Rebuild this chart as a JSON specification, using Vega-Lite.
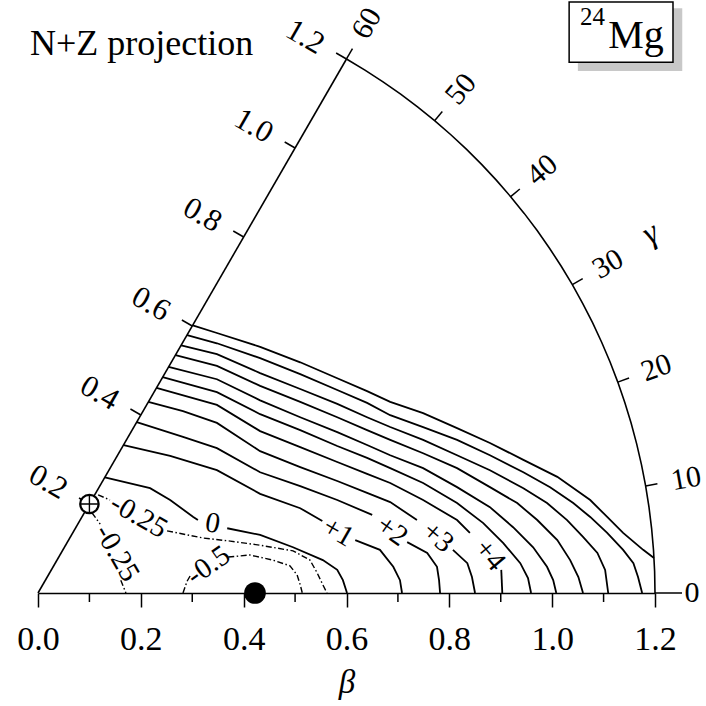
{
  "$schema": "https://vega.github.io/schema/vega-lite/v6.json",
  "width": 617,
  "height": 534,
  "autosize": {"type": "none"},
  "padding": {"left": 38, "top": 59, "right": 51, "bottom": 113},
  "background": "white",
  "config": {"view": {"stroke": null}},
  "datasets": {
    "contours": [
      {"c": "10", "x": 0.301, "y": 0.521}, {"c": "10", "x": 0.348, "y": 0.506}, {"c": "10", "x": 0.432, "y": 0.479}, {"c": "10", "x": 0.510, "y": 0.449}, {"c": "10", "x": 0.582, "y": 0.418}, {"c": "10", "x": 0.640, "y": 0.393}, {"c": "10", "x": 0.685, "y": 0.372}, {"c": "10", "x": 0.749, "y": 0.350}, {"c": "10", "x": 0.815, "y": 0.321}, {"c": "10", "x": 0.879, "y": 0.292}, {"c": "10", "x": 0.944, "y": 0.259}, {"c": "10", "x": 1.010, "y": 0.226}, {"c": "10", "x": 1.074, "y": 0.181}, {"c": "10", "x": 1.107, "y": 0.148}, {"c": "10", "x": 1.138, "y": 0.117}, {"c": "10", "x": 1.177, "y": 0.084}, {"c": "10", "x": 1.198, "y": 0.068},
      {"c": "9", "x": 0.290, "y": 0.502}, {"c": "9", "x": 0.348, "y": 0.486}, {"c": "9", "x": 0.432, "y": 0.457}, {"c": "9", "x": 0.510, "y": 0.426}, {"c": "9", "x": 0.582, "y": 0.395}, {"c": "9", "x": 0.640, "y": 0.370}, {"c": "9", "x": 0.685, "y": 0.346}, {"c": "9", "x": 0.749, "y": 0.323}, {"c": "9", "x": 0.815, "y": 0.298}, {"c": "9", "x": 0.879, "y": 0.268}, {"c": "9", "x": 0.944, "y": 0.235}, {"c": "9", "x": 0.996, "y": 0.206}, {"c": "9", "x": 1.041, "y": 0.175}, {"c": "9", "x": 1.074, "y": 0.148}, {"c": "9", "x": 1.107, "y": 0.117}, {"c": "9", "x": 1.138, "y": 0.084}, {"c": "9", "x": 1.158, "y": 0.058}, {"c": "9", "x": 1.167, "y": 0.031}, {"c": "9", "x": 1.175, "y": 0},
      {"c": "8", "x": 0.2785, "y": 0.482}, {"c": "8", "x": 0.348, "y": 0.465}, {"c": "8", "x": 0.432, "y": 0.428}, {"c": "8", "x": 0.510, "y": 0.397}, {"c": "8", "x": 0.582, "y": 0.368}, {"c": "8", "x": 0.640, "y": 0.342}, {"c": "8", "x": 0.685, "y": 0.323}, {"c": "8", "x": 0.749, "y": 0.298}, {"c": "8", "x": 0.815, "y": 0.268}, {"c": "8", "x": 0.879, "y": 0.239}, {"c": "8", "x": 0.944, "y": 0.204}, {"c": "8", "x": 0.990, "y": 0.175}, {"c": "8", "x": 1.029, "y": 0.142}, {"c": "8", "x": 1.060, "y": 0.109}, {"c": "8", "x": 1.088, "y": 0.078}, {"c": "8", "x": 1.103, "y": 0.045}, {"c": "8", "x": 1.109, "y": 0},
      {"c": "7", "x": 0.2675, "y": 0.463}, {"c": "7", "x": 0.348, "y": 0.442}, {"c": "7", "x": 0.432, "y": 0.403}, {"c": "7", "x": 0.510, "y": 0.372}, {"c": "7", "x": 0.582, "y": 0.342}, {"c": "7", "x": 0.640, "y": 0.317}, {"c": "7", "x": 0.685, "y": 0.298}, {"c": "7", "x": 0.749, "y": 0.272}, {"c": "7", "x": 0.815, "y": 0.243}, {"c": "7", "x": 0.879, "y": 0.206}, {"c": "7", "x": 0.932, "y": 0.175}, {"c": "7", "x": 0.971, "y": 0.142}, {"c": "7", "x": 1.010, "y": 0.103}, {"c": "7", "x": 1.035, "y": 0.064}, {"c": "7", "x": 1.051, "y": 0.031}, {"c": "7", "x": 1.060, "y": 0},
      {"c": "6", "x": 0.254, "y": 0.440}, {"c": "6", "x": 0.348, "y": 0.416}, {"c": "6", "x": 0.432, "y": 0.375}, {"c": "6", "x": 0.510, "y": 0.342}, {"c": "6", "x": 0.582, "y": 0.313}, {"c": "6", "x": 0.640, "y": 0.288}, {"c": "6", "x": 0.685, "y": 0.268}, {"c": "6", "x": 0.749, "y": 0.243}, {"c": "6", "x": 0.815, "y": 0.206}, {"c": "6", "x": 0.879, "y": 0.167}, {"c": "6", "x": 0.924, "y": 0.128}, {"c": "6", "x": 0.963, "y": 0.089}, {"c": "6", "x": 0.990, "y": 0.051}, {"c": "6", "x": 1.002, "y": 0.025}, {"c": "6", "x": 1.008, "y": 0},
      {"c": "5", "x": 0.2425, "y": 0.420}, {"c": "5", "x": 0.348, "y": 0.391}, {"c": "5", "x": 0.432, "y": 0.348}, {"c": "5", "x": 0.510, "y": 0.317}, {"c": "5", "x": 0.582, "y": 0.286}, {"c": "5", "x": 0.640, "y": 0.263}, {"c": "5", "x": 0.685, "y": 0.243}, {"c": "5", "x": 0.749, "y": 0.214}, {"c": "5", "x": 0.815, "y": 0.175}, {"c": "5", "x": 0.866, "y": 0.136}, {"c": "5", "x": 0.905, "y": 0.097}, {"c": "5", "x": 0.938, "y": 0.058}, {"c": "5", "x": 0.953, "y": 0.029}, {"c": "5", "x": 0.959, "y": 0},
      {"c": "4a", "x": 0.2305, "y": 0.399}, {"c": "4a", "x": 0.348, "y": 0.366}, {"c": "4a", "x": 0.432, "y": 0.315}, {"c": "4a", "x": 0.510, "y": 0.284}, {"c": "4a", "x": 0.582, "y": 0.255}, {"c": "4a", "x": 0.640, "y": 0.232}, {"c": "4a", "x": 0.685, "y": 0.214}, {"c": "4a", "x": 0.749, "y": 0.181}, {"c": "4a", "x": 0.815, "y": 0.142}, {"c": "4a", "x": 0.840, "y": 0.117},
      {"c": "4b", "x": 0.901, "y": 0.045}, {"c": "4b", "x": 0.903, "y": 0},
      {"c": "3a", "x": 0.2145, "y": 0.372}, {"c": "3a", "x": 0.282, "y": 0.354}, {"c": "3a", "x": 0.348, "y": 0.331}, {"c": "3a", "x": 0.432, "y": 0.276}, {"c": "3a", "x": 0.510, "y": 0.245}, {"c": "3a", "x": 0.582, "y": 0.218}, {"c": "3a", "x": 0.640, "y": 0.195}, {"c": "3a", "x": 0.685, "y": 0.177}, {"c": "3a", "x": 0.737, "y": 0.142},
      {"c": "3b", "x": 0.807, "y": 0.084}, {"c": "3b", "x": 0.835, "y": 0.058}, {"c": "3b", "x": 0.844, "y": 0.031}, {"c": "3b", "x": 0.850, "y": 0},
      {"c": "2a", "x": 0.192, "y": 0.3325}, {"c": "2a", "x": 0.282, "y": 0.304}, {"c": "2a", "x": 0.348, "y": 0.282}, {"c": "2a", "x": 0.432, "y": 0.235}, {"c": "2a", "x": 0.510, "y": 0.208}, {"c": "2a", "x": 0.582, "y": 0.181}, {"c": "2a", "x": 0.650, "y": 0.152},
      {"c": "2b", "x": 0.718, "y": 0.099}, {"c": "2b", "x": 0.757, "y": 0.078}, {"c": "2b", "x": 0.776, "y": 0.051}, {"c": "2b", "x": 0.780, "y": 0.025}, {"c": "2b", "x": 0.782, "y": 0},
      {"c": "1a", "x": 0.1665, "y": 0.288}, {"c": "1a", "x": 0.257, "y": 0.267}, {"c": "1a", "x": 0.348, "y": 0.239}, {"c": "1a", "x": 0.432, "y": 0.193}, {"c": "1a", "x": 0.510, "y": 0.165}, {"c": "1a", "x": 0.553, "y": 0.140},
      {"c": "1b", "x": 0.617, "y": 0.103}, {"c": "1b", "x": 0.665, "y": 0.084}, {"c": "1b", "x": 0.691, "y": 0.051}, {"c": "1b", "x": 0.704, "y": 0.025}, {"c": "1b", "x": 0.708, "y": 0},
      {"c": "0a", "x": 0.130, "y": 0.225}, {"c": "0a", "x": 0.218, "y": 0.204}, {"c": "0a", "x": 0.257, "y": 0.181}, {"c": "0a", "x": 0.302, "y": 0.148}, {"c": "0a", "x": 0.311, "y": 0.142},
      {"c": "0b", "x": 0.368, "y": 0.126}, {"c": "0b", "x": 0.432, "y": 0.113}, {"c": "0b", "x": 0.496, "y": 0.089}, {"c": "0b", "x": 0.554, "y": 0.064}, {"c": "0b", "x": 0.582, "y": 0.045}, {"c": "0b", "x": 0.593, "y": 0.025}, {"c": "0b", "x": 0.601, "y": 0}
    ],
    "negative": [
      {"c": "u1", "x": 0.117, "y": 0.191}, {"c": "u1", "x": 0.140, "y": 0.181},
      {"c": "u2", "x": 0.251, "y": 0.121}, {"c": "u2", "x": 0.321, "y": 0.107}, {"c": "u2", "x": 0.374, "y": 0.101}, {"c": "u2", "x": 0.432, "y": 0.093}, {"c": "u2", "x": 0.496, "y": 0.082}, {"c": "u2", "x": 0.529, "y": 0.064}, {"c": "u2", "x": 0.543, "y": 0.039}, {"c": "u2", "x": 0.554, "y": 0.016}, {"c": "u2", "x": 0.562, "y": 0},
      {"c": "l1", "x": 0.105, "y": 0.156}, {"c": "l1", "x": 0.121, "y": 0.134},
      {"c": "l2", "x": 0.161, "y": 0.025}, {"c": "l2", "x": 0.171, "y": 0},
      {"c": "h1", "x": 0.282, "y": 0}, {"c": "h1", "x": 0.290, "y": 0.023}, {"c": "h1", "x": 0.298, "y": 0.037},
      {"c": "h2", "x": 0.370, "y": 0.070}, {"c": "h2", "x": 0.412, "y": 0.074}, {"c": "h2", "x": 0.457, "y": 0.064}, {"c": "h2", "x": 0.490, "y": 0.053}, {"c": "h2", "x": 0.504, "y": 0.035}, {"c": "h2", "x": 0.510, "y": 0.016}, {"c": "h2", "x": 0.514, "y": 0}
    ],
    "arc": [
      {"g": 0}, {"g": 2}, {"g": 4}, {"g": 6}, {"g": 8}, {"g": 10}, {"g": 12}, {"g": 14}, {"g": 16}, {"g": 18}, {"g": 20}, {"g": 22}, {"g": 24}, {"g": 26}, {"g": 28}, {"g": 30},
      {"g": 32}, {"g": 34}, {"g": 36}, {"g": 38}, {"g": 40}, {"g": 42}, {"g": 44}, {"g": 46}, {"g": 48}, {"g": 50}, {"g": 52}, {"g": 54}, {"g": 56}, {"g": 58}, {"g": 60}
    ],
    "gammaTicks": [{"g": 0}, {"g": 10}, {"g": 20}, {"g": 30}, {"g": 40}, {"g": 50}, {"g": 60}],
    "betaTicks": [{"b": 0.2}, {"b": 0.4}, {"b": 0.6}, {"b": 0.8}, {"b": 1.0}, {"b": 1.2}],
    "minorTicks": [{"x": 0.1}, {"x": 0.3}, {"x": 0.5}, {"x": 0.7}, {"x": 0.9}, {"x": 1.1}]
  },
  "encoding": {
    "x": {
      "field": "x", "type": "quantitative",
      "scale": {"domain": [0, 1.2], "nice": false, "zero": false},
      "axis": {
        "values": [0, 0.2, 0.4, 0.6, 0.8, 1.0, 1.2], "format": ".1f", "grid": false,
        "tickSize": 14, "tickWidth": 1.5, "tickColor": "black",
        "domainColor": "black", "domainWidth": 1.5,
        "labelFont": "Liberation Serif", "labelFontSize": 34, "labelColor": "black",
        "labelPadding": 15, "labelFlush": false, "labelOverlap": false,
        "title": "β", "titleFont": "Liberation Serif", "titleFontStyle": "italic", "titleFontWeight": "normal",
        "titleFontSize": 33, "titleColor": "black", "titlePadding": 10
      }
    },
    "y": {"field": "y", "type": "quantitative", "scale": {"domain": [0, 1.03923], "nice": false, "zero": false}, "axis": null}
  },
  "layer": [
    {
      "data": {"name": "arc"},
      "transform": [
        {"calculate": "1.2*cos(datum.g*PI/180)", "as": "x"},
        {"calculate": "1.2*sin(datum.g*PI/180)", "as": "y"}
      ],
      "mark": {"type": "line", "color": "black", "strokeWidth": 1.6},
      "encoding": {"order": {"field": "g", "type": "quantitative"}}
    },
    {
      "data": {"values": [{"x": 0, "y": 0}, {"x": 0.6, "y": 1.03923}]},
      "mark": {"type": "line", "color": "black", "strokeWidth": 1.6},
      "encoding": {}
    },
    {
      "data": {"name": "minorTicks"},
      "transform": [
        {"calculate": "0", "as": "y"},
        {"calculate": "-0.0175", "as": "y2"}
      ],
      "mark": {"type": "rule", "color": "black", "strokeWidth": 1.5},
      "encoding": {"y2": {"field": "y2"}}
    },
    {
      "data": {"name": "betaTicks"},
      "transform": [
        {"calculate": "datum.b/2", "as": "x"},
        {"calculate": "datum.b*0.8660254", "as": "y"},
        {"calculate": "datum.b/2 - 0.0202", "as": "x2"},
        {"calculate": "datum.b*0.8660254 + 0.0117", "as": "y2"}
      ],
      "mark": {"type": "rule", "color": "black", "strokeWidth": 1.5},
      "encoding": {"x2": {"field": "x2"}, "y2": {"field": "y2"}}
    },
    {
      "data": {"name": "betaTicks"},
      "transform": [
        {"calculate": "datum.b/2 - 0.0807", "as": "x"},
        {"calculate": "datum.b*0.8660254 + 0.0422", "as": "y"},
        {"calculate": "format(datum.b, '.1f')", "as": "t"}
      ],
      "mark": {"type": "text", "font": "Liberation Serif", "fontSize": 31, "color": "black", "angle": 30, "align": "center", "baseline": "middle"},
      "encoding": {"text": {"field": "t"}}
    },
    {
      "data": {"name": "gammaTicks"},
      "transform": [
        {"calculate": "datum.g == 0 ? 1.2525 : 1.2233", "as": "r"},
        {"calculate": "1.2*cos(datum.g*PI/180)", "as": "x"},
        {"calculate": "1.2*sin(datum.g*PI/180)", "as": "y"},
        {"calculate": "datum.r*cos(datum.g*PI/180)", "as": "x2"},
        {"calculate": "datum.r*sin(datum.g*PI/180)", "as": "y2"}
      ],
      "mark": {"type": "rule", "color": "black", "strokeWidth": 1.5},
      "encoding": {"x2": {"field": "x2"}, "y2": {"field": "y2"}}
    },
    {
      "data": {"name": "gammaTicks"},
      "transform": [
        {"calculate": "datum.g == 0 ? 1.272 : 1.28", "as": "r"},
        {"calculate": "datum.r*cos(datum.g*PI/180)", "as": "x"},
        {"calculate": "datum.r*sin(datum.g*PI/180)", "as": "y"},
        {"calculate": "-datum.g", "as": "rot"}
      ],
      "mark": {"type": "text", "font": "Liberation Serif", "fontSize": 30, "color": "black", "align": "center", "baseline": "middle"},
      "encoding": {
        "text": {"field": "g", "type": "quantitative"},
        "angle": {"field": "rot", "type": "quantitative", "scale": null}
      }
    },
    {
      "data": {"name": "contours"},
      "mark": {"type": "line", "color": "black", "strokeWidth": 1.8},
      "encoding": {"detail": {"field": "c"}}
    },
    {
      "data": {"name": "negative"},
      "mark": {"type": "line", "color": "black", "strokeWidth": 1.4, "strokeDash": [6, 2.5, 1.5, 2.5]},
      "encoding": {"detail": {"field": "c"}}
    },
    {"data": {"values": [{"x": 0.196, "y": 0.150}]}, "mark": {"type": "text", "font": "Liberation Serif", "fontSize": 29, "color": "black", "angle": 30}, "encoding": {"text": {"value": "-0.25"}}},
    {"data": {"values": [{"x": 0.154, "y": 0.078}]}, "mark": {"type": "text", "font": "Liberation Serif", "fontSize": 29, "color": "black", "angle": 60}, "encoding": {"text": {"value": "-0.25"}}},
    {"data": {"values": [{"x": 0.331, "y": 0.054}]}, "mark": {"type": "text", "font": "Liberation Serif", "fontSize": 29, "color": "black", "angle": -35}, "encoding": {"text": {"value": "-0.5"}}},
    {"data": {"values": [{"x": 0.340, "y": 0.136}]}, "mark": {"type": "text", "font": "Liberation Serif", "fontSize": 29, "color": "black", "angle": 10}, "encoding": {"text": {"value": "0"}}},
    {"data": {"values": [{"x": 0.584, "y": 0.119}]}, "mark": {"type": "text", "font": "Liberation Serif", "fontSize": 29, "color": "black", "angle": 30}, "encoding": {"text": {"value": "+1"}}},
    {"data": {"values": [{"x": 0.689, "y": 0.121}]}, "mark": {"type": "text", "font": "Liberation Serif", "fontSize": 29, "color": "black", "angle": 35}, "encoding": {"text": {"value": "+2"}}},
    {"data": {"values": [{"x": 0.778, "y": 0.109}]}, "mark": {"type": "text", "font": "Liberation Serif", "fontSize": 29, "color": "black", "angle": 40}, "encoding": {"text": {"value": "+3"}}},
    {"data": {"values": [{"x": 0.879, "y": 0.074}]}, "mark": {"type": "text", "font": "Liberation Serif", "fontSize": 29, "color": "black", "angle": 50}, "encoding": {"text": {"value": "+4"}}},
    {"data": {"values": [{"x": 0.422, "y": 0}]}, "mark": {"type": "point", "shape": "circle", "filled": true, "color": "black", "size": 470, "opacity": 1}, "encoding": {}},
    {"data": {"values": [{"x": 0.1, "y": 0.1732}]}, "mark": {"type": "point", "shape": "circle", "filled": true, "fill": "white", "stroke": "black", "strokeWidth": 2.2, "size": 340, "opacity": 1}, "encoding": {}},
    {"data": {"values": [{"x": 0.1, "y": 0.1732}]}, "mark": {"type": "point", "shape": "M-1,0L1,0M0,-1L0,1", "filled": false, "stroke": "black", "strokeWidth": 1.4, "size": 290, "opacity": 1}, "encoding": {}},
    {"data": {"values": [{"x": 1.191, "y": 0.700}]}, "mark": {"type": "text", "font": "Liberation Serif", "fontSize": 33, "fontStyle": "italic", "color": "black", "angle": -30, "align": "center", "baseline": "middle"}, "encoding": {"text": {"value": "γ"}}},
    {"data": {"values": [{"x": -0.0156, "y": 1.0467}]}, "mark": {"type": "text", "font": "Liberation Serif", "fontSize": 36, "color": "black", "align": "left", "baseline": "alphabetic"}, "encoding": {"text": {"value": "N+Z projection"}}},
    {"data": {"values": [{"x": 1.050, "x2": 1.253, "y": 1.138, "y2": 1.016}]}, "mark": {"type": "rect", "color": "#c8c8c8", "opacity": 1}, "encoding": {"x2": {"field": "x2"}, "y2": {"field": "y2"}}},
    {"data": {"values": [{"x": 1.033, "x2": 1.235, "y": 1.150, "y2": 1.033}]}, "mark": {"type": "rect", "fill": "white", "stroke": "black", "strokeWidth": 1.5, "opacity": 1}, "encoding": {"x2": {"field": "x2"}, "y2": {"field": "y2"}}},
    {"data": {"values": [{"x": 1.054, "y": 1.105}]}, "mark": {"type": "text", "font": "Liberation Serif", "fontSize": 25, "color": "black", "align": "left", "baseline": "alphabetic"}, "encoding": {"text": {"value": "24"}}},
    {"data": {"values": [{"x": 1.109, "y": 1.060}]}, "mark": {"type": "text", "font": "Liberation Serif", "fontSize": 40, "color": "black", "align": "left", "baseline": "alphabetic"}, "encoding": {"text": {"value": "Mg"}}}
  ]
}
